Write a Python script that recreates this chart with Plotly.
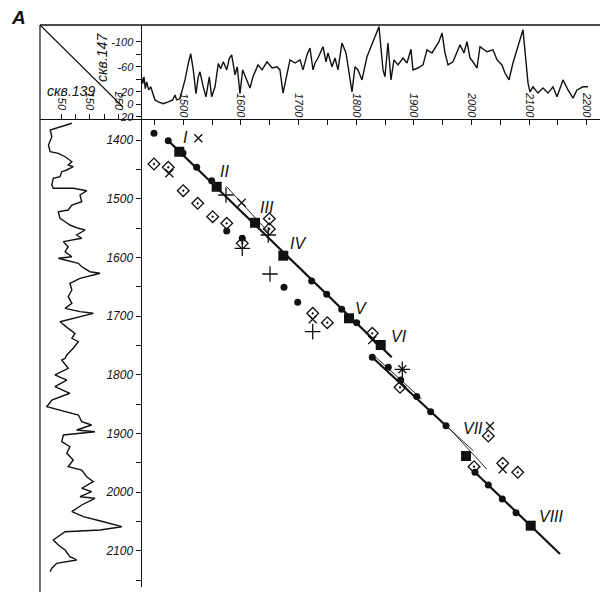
import plotly.graph_objects as go

# ---------------- data ----------------
# well 147 log curve (top panel): depth (m) and log value
top_depth = [1426.0, 1429.5, 1431.8, 1434.0, 1436.4, 1439.9, 1443.4, 1446.9, 1450.8, 1456.6,
             1465.2, 1473.9, 1481.6, 1485.5, 1488.5, 1494.2, 1498.9, 1502.9, 1508.6, 1512.8,
             1517.3, 1522.0, 1526.0, 1528.9, 1534.6, 1539.3, 1545.1, 1549.2, 1555.0, 1560.7,
             1564.8, 1569.4, 1575.3, 1579.8, 1583.9, 1589.7, 1593.6, 1598.3, 1603.0, 1610.5,
             1615.7, 1620.9, 1629.6, 1636.6, 1645.3, 1654.0, 1662.5, 1667.7, 1673.0, 1685.1,
             1693.8, 1702.5, 1707.7, 1714.6, 1719.8, 1725.0, 1728.5, 1733.7, 1742.4, 1747.6,
             1751.0, 1758.0, 1763.2, 1768.4, 1775.3, 1782.3, 1785.7, 1792.7, 1797.9, 1803.1,
             1810.0, 1818.7, 1839.5, 1846.5, 1849.9, 1855.1, 1860.3, 1865.5, 1872.5, 1881.2,
             1888.1, 1895.0, 1898.5, 1907.2, 1915.9, 1922.8, 1931.5, 1936.7, 1943.6, 1948.9,
             1954.1, 1959.3, 1967.9, 1980.1, 1987.0, 1992.2, 1997.4, 2002.6, 2009.6, 2014.8,
             2026.9, 2037.3, 2044.3, 2052.9, 2058.1, 2065.1, 2072.0, 2089.4, 2098.1, 2101.5,
             2106.7, 2115.4, 2124.1, 2132.8, 2141.4, 2148.4, 2158.8, 2167.5, 2176.2, 2183.1,
             2193.5, 2202.2]
top_value = [-52, -33, -44, -25, -36, -23, -28, -17, -7, -4,
             -1, -4, -7, -15, -7, -9, -25, -39, -65, -81,
             -55, -17, -44, -52, -28, -12, -44, -12, -28, -65,
             -57, -68, -55, -73, -79, -47, -60, -17, -55, -39,
             -26, -44, -63, -55, -68, -58, -60, -55, -18, -71,
             -66, -71, -55, -79, -90, -55, -66, -74, -92, -68,
             -82, -60, -74, -55, -98, -82, -60, -20, -60, -55,
             -39, -76, -124, -55, -44, -98, -39, -71, -63, -74,
             -66, -88, -55, -58, -63, -87, -82, -90, -100, -114,
             -82, -63, -68, -95, -82, -100, -74, -68, -58, -92,
             -84, -87, -71, -63, -50, -39, -66, -119, -34, -20,
             -28, -18, -26, -18, -28, -12, -39, -23, -10, -23,
             -28, -28]

# well 139 log curve (left panel): log value and depth (m)
left_value = [86, 9, 15, 3, 9, 38, 62, 86, 73, 91, 68, 50, 44, 20, 15, 20, 91, 139, 115, 121,
              86, 73, 38, 44, 62, 79, 109, 133, 103, 121, 56, 73, 62, 86, 38, 109, 121, 150,
              186, 115, 79, 86, 73, 86, 62, 115, 162, 115, 44, 73, 97, 86, 109, 91, 68, 62,
              50, 73, 26, 68, 26, 79, 15, -3, 68, 109, 121, 156, 103, 168, 56, 50, 79, 68,
              91, 73, 121, 139, 162, 121, 156, 115, 168, 121, 86, 127, 198, 263, 186, 62,
              20, 38, 62, 79, 103, 32, 15, 9]
left_depth = [1371.5, 1383.0, 1394.4, 1408.5, 1419.9, 1422.7, 1428.5, 1437.0, 1442.6, 1445.5,
              1451.1, 1454.0, 1462.6, 1465.3, 1476.7, 1482.3, 1482.3, 1486.4, 1493.7, 1505.2,
              1510.8, 1519.3, 1522.2, 1533.5, 1539.3, 1544.9, 1550.5, 1553.4, 1561.9, 1567.5,
              1573.3, 1581.9, 1590.4, 1598.9, 1601.6, 1610.2, 1616.0, 1624.5, 1627.2, 1635.7,
              1644.2, 1655.7, 1667.1, 1678.4, 1686.9, 1692.6, 1695.4, 1701.2, 1709.7, 1721.0,
              1729.5, 1738.0, 1743.8, 1755.0, 1766.4, 1772.1, 1775.0, 1789.1, 1800.5, 1809.1,
              1820.5, 1831.7, 1843.1, 1854.6, 1863.1, 1868.7, 1880.1, 1885.8, 1894.3, 1897.2,
              1902.8, 1914.2, 1922.7, 1934.0, 1945.4, 1956.8, 1962.5, 1973.9, 1982.4, 1993.6,
              1999.4, 2008.0, 2010.7, 2022.1, 2033.5, 2042.0, 2050.6, 2059.1, 2064.7, 2067.6,
              2081.8, 2090.3, 2098.8, 2110.2, 2115.8, 2121.5, 2130.0, 2135.8]

# correlation points: x = depth in well 147, y = depth in well 139
circle_x = [1449.1, 1473.9, 1499.4, 1523.2, 1549.2, 1575.3, 1602.3, 1722.7, 1748.8, 1674.7,
            1698.5, 1774.8, 1800.8, 1827.9, 1855.7, 1877.2, 1905.0, 1929.2, 1955.8, 2006.1,
            2029.2, 2053.5, 2077.3]
circle_y = [1388.6, 1401.2, 1422.2, 1446.5, 1469.4, 1555.1, 1567.5, 1640.3, 1663.0, 1651.1,
            1676.6, 1688.6, 1711.4, 1770.4, 1787.4, 1809.1, 1837.2, 1863.1, 1887.0, 1966.4,
            1988.0, 2011.9, 2035.3]

square_x = [1493.0, 1557.9, 1624.4, 1673.5, 1787.5, 1842.5, 1990.5, 2102.8]
square_y = [1419.9, 1479.6, 1541.0, 1597.2, 1703.9, 1749.4, 1938.6, 2057.4]
square_labels = ["I", "II", "III", "IV", "V", "VI", "VII", "VIII"]

diamond_x = [1449.1, 1473.9, 1499.9, 1524.9, 1551.0, 1575.3, 1649.2, 1649.2, 1602.3, 1724.5,
             1749.8, 1827.9, 1876.0, 2004.4, 2029.2, 2054.2, 2080.2]
diamond_y = [1440.9, 1446.5, 1486.4, 1507.9, 1530.7, 1542.0, 1534.1, 1551.7, 1576.1, 1695.4,
             1711.4, 1729.5, 1821.5, 1956.8, 1904.5, 1951.1, 1966.4]

xcross_x = [1526.0, 1475.7, 1601.3, 1724.5, 1827.9, 1880.0, 2032.1, 2054.2]
xcross_y = [1397.1, 1456.8, 1506.9, 1705.6, 1740.9, 1790.8, 1887.5, 1961.3]

plus_x = [1574.0, 1647.4, 1602.3, 1650.4, 1724.5, 1880.0]
plus_y = [1493.7, 1561.9, 1584.6, 1628.4, 1726.7, 1790.8]

# correlation lines (thick) and alternative (thin) segments
thick_lines = [
    ([1473.9, 1861.6], [1401.2, 1770.4]),
    ([1827.9, 1955.8], [1770.4, 1887.0]),
    ([2006.1, 2153.6], [1966.4, 2105.6]),
]
thin_lines = [
    ([1575.3, 1647.4], [1479.6, 1556.8]),
    ([1833.9, 1913.6], [1770.2, 1841.4]),
    ([1955.8, 2003.2], [1887.0, 1929.6]),
    ([1961.0, 2026.4], [1890.9, 1960.8]),
]

# axis ticks
main_y_ticks = list(range(1400, 2151, 50))
main_y_text = [str(v) if v % 100 == 0 else "" for v in main_y_ticks]
top_x_ticks = list(range(1450, 2201, 50))
top_x_text = [str(v) if v % 100 == 0 else "" for v in top_x_ticks]
top_y_ticks = [-100, -80, -60, -40, -20, 0, 20]
top_y_text = ["-100", "", "-60", "", "-20", "0", "20"]
left_x_ticks = [50, 100, 150, 200, 250, 300]
left_x_text = ["50", "", "150", "", "250", ""]

# ---------------- figure ----------------
W, H = 615, 595
def px(v):
    return v / W
def py(v):
    return 1 - v / H

FONT = "Liberation Sans Narrow, Liberation Sans, Arial, sans-serif"
BLK = "#111111"

fig = go.Figure()

# top curve
fig.add_trace(go.Scatter(x=top_depth, y=top_value, mode="lines",
                         line=dict(color=BLK, width=1.4), xaxis="x2", yaxis="y2",
                         showlegend=False, hoverinfo="skip"))
# carrier for the top-panel tick-label axis
fig.add_trace(go.Scatter(x=top_depth[:1], y=top_value[:1], mode="markers",
                         marker=dict(opacity=0), xaxis="x4", yaxis="y2",
                         showlegend=False, hoverinfo="skip"))
# left curve
fig.add_trace(go.Scatter(x=left_value, y=left_depth, mode="lines",
                         line=dict(color=BLK, width=1.4), xaxis="x3", yaxis="y3",
                         showlegend=False, hoverinfo="skip"))

for lx, ly in thick_lines:
    fig.add_trace(go.Scatter(x=lx, y=ly, mode="lines", line=dict(color=BLK, width=2.2),
                             showlegend=False, hoverinfo="skip"))
for lx, ly in thin_lines:
    fig.add_trace(go.Scatter(x=lx, y=ly, mode="lines", line=dict(color=BLK, width=0.9),
                             showlegend=False, hoverinfo="skip"))

fig.add_trace(go.Scatter(x=diamond_x, y=diamond_y, mode="markers",
                         marker=dict(symbol="diamond-open-dot", size=9, color=BLK,
                                     line=dict(width=1.3, color=BLK)),
                         showlegend=False))
fig.add_trace(go.Scatter(x=xcross_x, y=xcross_y, mode="markers",
                         marker=dict(symbol="x-thin-open", size=8, color=BLK,
                                     line=dict(width=1.3, color=BLK)),
                         showlegend=False))
fig.add_trace(go.Scatter(x=plus_x, y=plus_y, mode="markers",
                         marker=dict(symbol="cross-thin-open", size=11, color=BLK,
                                     line=dict(width=1.3, color=BLK)),
                         showlegend=False))
fig.add_trace(go.Scatter(x=circle_x, y=circle_y, mode="markers",
                         marker=dict(symbol="circle", size=7, color=BLK),
                         showlegend=False))
fig.add_trace(go.Scatter(x=square_x, y=square_y, mode="markers",
                         marker=dict(symbol="square", size=10, color=BLK),
                         showlegend=False))

label_shift = [(6, 14), (8, 15), (12, 15), (15, 12), (12, 10), (18, 8), (7, 27), (21, 9)]
annotations = []
for sx, sy, lab, (dx, dy) in zip(square_x, square_y, square_labels, label_shift):
    annotations.append(dict(x=sx, y=sy, xref="x", yref="y", text=lab, showarrow=False,
                            xshift=dx, yshift=dy, xanchor="center", yanchor="middle",
                            font=dict(family=FONT, size=16, color=BLK, style="italic")))

annotations += [
    dict(x=px(18), y=py(17), xref="paper", yref="paper", text="<b>А</b>", showarrow=False,
         xanchor="center", yanchor="middle",
         font=dict(family="Liberation Sans, sans-serif", size=19, color=BLK, style="italic")),
    dict(x=px(102), y=py(58), xref="paper", yref="paper", text="скв.147", showarrow=False,
         xanchor="center", yanchor="middle", textangle=-90,
         font=dict(family=FONT, size=14, color=BLK, style="italic")),
    dict(x=px(71), y=py(91), xref="paper", yref="paper", text="скв.139", showarrow=False,
         xanchor="center", yanchor="middle",
         font=dict(family=FONT, size=14, color=BLK, style="italic")),
]

shapes = [
    dict(type="line", xref="paper", yref="paper", x0=px(40), x1=px(600), y0=py(25), y1=py(25),
         line=dict(color=BLK, width=1.6)),
    dict(type="line", xref="paper", yref="paper", x0=px(40), x1=px(40), y0=py(25), y1=py(592),
         line=dict(color=BLK, width=1.2)),
    dict(type="line", xref="paper", yref="paper", x0=px(40), x1=px(123), y0=py(25), y1=py(107),
         line=dict(color=BLK, width=1.1)),
]

tickfont = dict(family=FONT, size=12, color=BLK, style="italic")
smallfont = dict(family=FONT, size=11, color=BLK, style="italic")
main_x_range = [1427.8, 2223.0]
main_y_range = [2161.9, 1365.9]

fig.update_layout(
    width=W, height=H,
    margin=dict(l=0, r=0, t=0, b=0),
    paper_bgcolor="white", plot_bgcolor="rgba(0,0,0,0)",
    showlegend=False,
    xaxis=dict(domain=[px(141.7), px(600)], range=main_x_range, visible=False, anchor="y"),
    yaxis=dict(domain=[py(587), py(120)], range=main_y_range, anchor="x",
               showline=True, linecolor=BLK, linewidth=1.3, showgrid=False, zeroline=False,
               ticks="outside", ticklen=5, tickcolor=BLK, tickwidth=1,
               tickvals=main_y_ticks, ticktext=main_y_text, tickfont=tickfont, automargin=False),
    xaxis2=dict(domain=[px(141.7), px(600)], range=main_x_range, anchor="y2",
                showline=True, linecolor=BLK, linewidth=1.3, showgrid=False, zeroline=False,
                ticks="outside", ticklen=5, tickcolor=BLK, tickwidth=1,
                tickvals=top_x_ticks, showticklabels=False, automargin=False),
    xaxis4=dict(domain=[px(141.7), px(600)], range=main_x_range, anchor="free",
                overlaying="x2", position=py(119), side="top",
                showline=False, showgrid=False, zeroline=False, ticks="",
                tickvals=top_x_ticks, ticktext=top_x_text, tickangle=90,
                tickfont=smallfont, automargin=False),
    yaxis2=dict(domain=[py(118.5), py(25)], range=[22.6, -126.7], anchor="x2",
                showline=True, linecolor=BLK, linewidth=1.3, showgrid=False, zeroline=False,
                ticks="outside", ticklen=5, tickcolor=BLK, tickwidth=1,
                tickvals=top_y_ticks, ticktext=top_y_text,
                tickfont=smallfont, automargin=False),
    xaxis3=dict(domain=[px(40), px(141.7)], range=[-27, 333.7], anchor="y3", side="top",
                showline=True, linecolor=BLK, linewidth=1.3, showgrid=False, zeroline=False,
                ticks="outside", ticklen=5, tickcolor=BLK, tickwidth=1,
                tickvals=left_x_ticks, ticktext=left_x_text, tickangle=90,
                tickfont=smallfont, automargin=False),
    yaxis3=dict(domain=[py(587), py(120)], range=main_y_range, anchor="x3", visible=False),
    annotations=annotations,
    shapes=shapes,
)

fig.write_html("out.html", config={"displayModeBar": False},
               post_script="document.body.style.margin='0';document.body.style.overflow='hidden';")
